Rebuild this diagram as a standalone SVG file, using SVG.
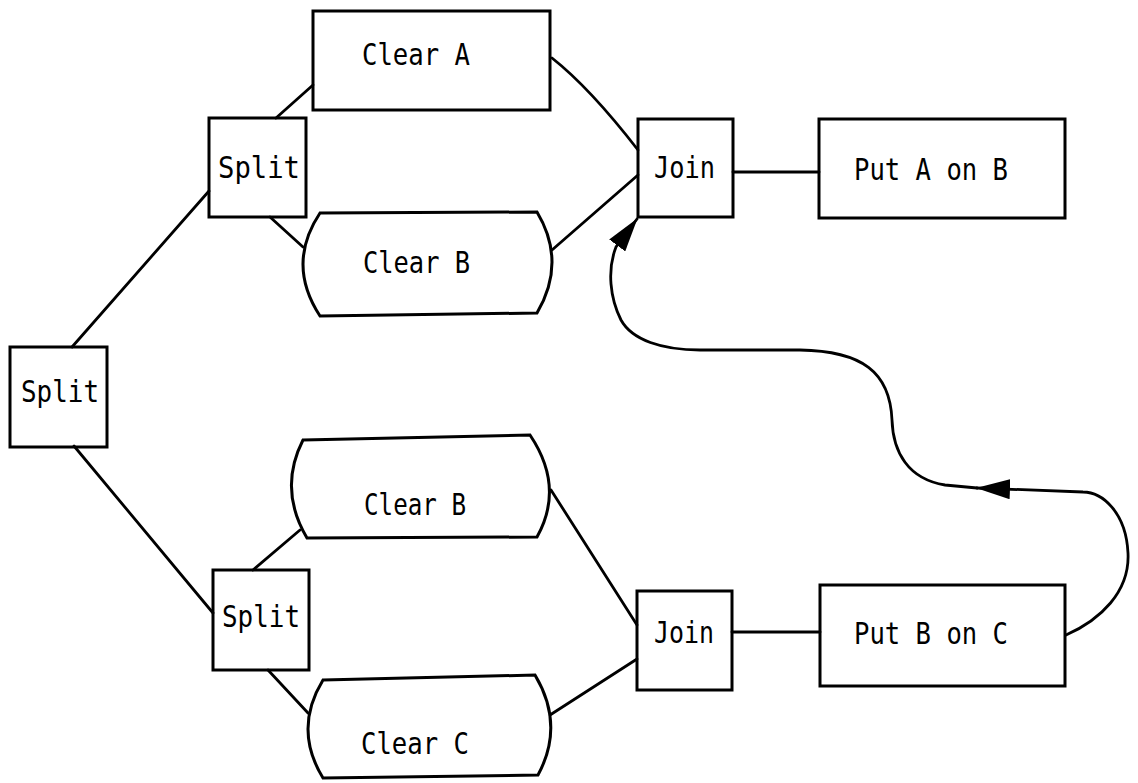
<svg xmlns="http://www.w3.org/2000/svg" width="1138" height="783" viewBox="0 0 1138 783">
<style>
.box{fill:none;stroke:#000;stroke-width:3;stroke-linejoin:miter}
.ln{fill:none;stroke:#000;stroke-width:2.8;stroke-linecap:round}
.t{font-family:"DejaVu Sans Mono","Liberation Mono",monospace;font-size:30px;fill:#000}
</style>
<defs>
<marker id="ah" markerUnits="userSpaceOnUse" markerWidth="34" markerHeight="20" viewBox="0 0 34 20" refX="33" refY="10" orient="auto">
<path d="M0,0 L34,10 L0,20 Z" fill="#000"/>
</marker>
</defs>
<rect width="1138" height="783" fill="#fff"/>
<g id="connectors">
<line class="ln" x1="276" y1="118" x2="313" y2="85"/>
<line class="ln" x1="270" y1="217" x2="303" y2="247"/>
<path class="ln" d="M552,58 Q590,88 638,150"/>
<line class="ln" x1="552" y1="250" x2="638" y2="175"/>
<line class="ln" x1="733" y1="172" x2="819" y2="172"/>
<line class="ln" x1="72" y1="347" x2="209" y2="191"/>
<line class="ln" x1="74" y1="446" x2="213" y2="613"/>
<line class="ln" x1="253" y1="570" x2="300" y2="530"/>
<line class="ln" x1="268" y1="670" x2="308" y2="713"/>
<line class="ln" x1="551" y1="490" x2="637" y2="625"/>
<line class="ln" x1="550" y1="715" x2="637" y2="659"/>
<line class="ln" x1="732" y1="632" x2="820" y2="632"/>
<path class="ln" marker-end="url(#ah)" d="M1066,635 C1100,620 1130,592 1128,553 C1126,512 1102,492 1083,492 L977,488"/>
<path class="ln" marker-end="url(#ah)" d="M977,488 L945,485 C908,479 893,452 892,420 C890,372 862,351 800,350 L700,350 C662,350 632,340 621,320 C610,298 607,270 616,247 L637,219"/>
</g>
<g id="clearA">
<rect class="box" x="313" y="11" width="237" height="99"/>
<text class="t" x="362" y="65" textLength="108" lengthAdjust="spacingAndGlyphs">Clear A</text>
</g>
<g id="split1">
<rect class="box" x="209" y="118" width="97" height="99"/>
<text class="t" x="218" y="178" textLength="82" lengthAdjust="spacingAndGlyphs">Split</text>
</g>
<g id="clearB1">
<path class="box" d="M320,213 L537,212 Q567,262 537,313 L320,316 Q286,264 320,213 Z"/>
<text class="t" x="363" y="273" textLength="107" lengthAdjust="spacingAndGlyphs">Clear B</text>
</g>
<g id="join1">
<rect class="box" x="638" y="119" width="95" height="98"/>
<text class="t" x="654" y="178" textLength="61" lengthAdjust="spacingAndGlyphs">Join</text>
</g>
<g id="putAonB">
<rect class="box" x="819" y="119" width="246" height="99"/>
<text class="t" x="854" y="180" textLength="154" lengthAdjust="spacingAndGlyphs">Put A on B</text>
</g>
<g id="split0">
<rect class="box" x="10" y="347" width="97" height="100"/>
<text class="t" x="21" y="402" textLength="78" lengthAdjust="spacingAndGlyphs">Split</text>
</g>
<g id="clearB2">
<path class="box" d="M303,440 L530,435 Q565,487 537,537 L307,538 Q278,489 303,440 Z"/>
<text class="t" x="364" y="515" textLength="102" lengthAdjust="spacingAndGlyphs">Clear B</text>
</g>
<g id="split2">
<rect class="box" x="213" y="570" width="96" height="100"/>
<text class="t" x="222" y="627" textLength="78" lengthAdjust="spacingAndGlyphs">Split</text>
</g>
<g id="clearC">
<path class="box" d="M323,680 L535,675 Q565,725 538,775 L323,778 Q293,729 323,680 Z"/>
<text class="t" x="361" y="754" textLength="108" lengthAdjust="spacingAndGlyphs">Clear C</text>
</g>
<g id="join2">
<rect class="box" x="637" y="591" width="95" height="99"/>
<text class="t" x="654" y="643" textLength="60" lengthAdjust="spacingAndGlyphs">Join</text>
</g>
<g id="putBonC">
<rect class="box" x="820" y="585" width="245" height="101"/>
<text class="t" x="854" y="644" textLength="154" lengthAdjust="spacingAndGlyphs">Put B on C</text>
</g>
</svg>
